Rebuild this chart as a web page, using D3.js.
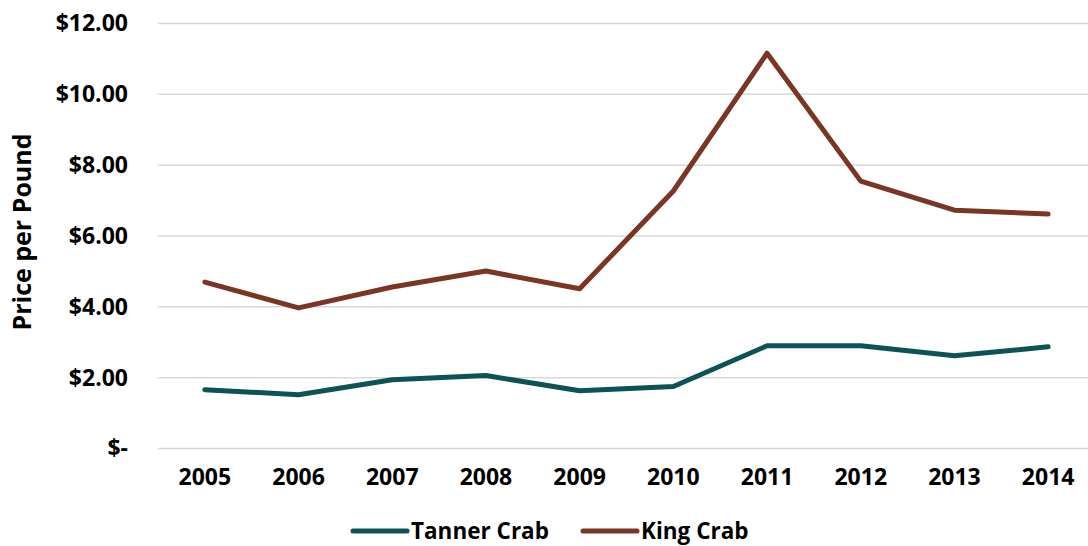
<!DOCTYPE html>
<html><head><meta charset="utf-8">
<script src="https://cdn.jsdelivr.net/npm/d3@7"></script>
<style>body{margin:0;background:#fff}svg{display:block}text{font-family:"Open Sans",sans-serif;font-weight:700;fill:#000}</style>
</head><body><svg id="c" width="1088" height="546"></svg>
<script>
const years = ["2005","2006","2007","2008","2009","2010","2011","2012","2013","2014"];
const tanner = [1.66,1.52,1.94,2.06,1.63,1.75,2.90,2.90,2.62,2.87];
const king = [4.70,3.97,4.56,5.01,4.51,7.27,11.16,7.55,6.73,6.62];
const yTicks = [0,2,4,6,8,10,12];
const seriesNames = ["Tanner Crab","King Crab"];
const colors = ["#0d5257","#7b3523"];

const svg = d3.select("#c");
const mLeft = 158, mRight = 1095, mTop = 23.5, mBottom = 448.5;
const x = d3.scaleBand().domain(years).range([mLeft, mRight]);
const y = d3.scaleLinear().domain([0,12]).range([mBottom, mTop]);
const fmt = v => v === 0 ? "$-" : "$" + d3.format(".2f")(v);

svg.append("g").selectAll("line").data(yTicks).join("line")
  .attr("x1", mLeft).attr("x2", mRight)
  .attr("y1", d => y(d)).attr("y2", d => y(d))
  .attr("stroke", "#d9d9d9").attr("stroke-width", 1.5);

const yAxis = svg.append("g").attr("transform", `translate(${mLeft},0)`)
  .call(d3.axisLeft(y).tickValues(yTicks).tickFormat(fmt).tickSize(0).tickPadding(30));
yAxis.select(".domain").remove();
yAxis.selectAll("text").attr("font-size", 23).attr("font-family", "'Open Sans',sans-serif").attr("font-weight", 700).attr("fill", "#000");

const xAxis = svg.append("g").attr("transform", `translate(0,${mBottom})`)
  .call(d3.axisBottom(x).tickSize(0).tickPadding(20));
xAxis.select(".domain").remove();
xAxis.selectAll("text").attr("font-size", 23).attr("font-family", "'Open Sans',sans-serif").attr("font-weight", 700).attr("fill", "#000");

svg.append("text").attr("transform", `translate(31,${(mTop+mBottom)/2 - 4}) rotate(-90)`)
  .attr("text-anchor", "middle").attr("font-size", 25).text("Price per Pound");

const line = d3.line().x((d,i) => x(years[i]) + x.bandwidth()/2).y(d => y(d));
[tanner, king].forEach((s, i) => {
  svg.append("path").datum(s).attr("d", line).attr("fill", "none")
    .attr("stroke", colors[i]).attr("stroke-width", 5).attr("stroke-linejoin", "round").attr("stroke-linecap", "round");
});

const legX = [353, 583];
seriesNames.forEach((n, i) => {
  svg.append("line").attr("x1", legX[i]).attr("x2", legX[i] + 54).attr("y1", 531).attr("y2", 531)
    .attr("stroke", colors[i]).attr("stroke-width", 5).attr("stroke-linecap", "round");
  svg.append("text").attr("x", legX[i] + 58).attr("y", 531).attr("dy", "0.35em").attr("font-size", 22.5).text(n);
});
</script></body></html>
